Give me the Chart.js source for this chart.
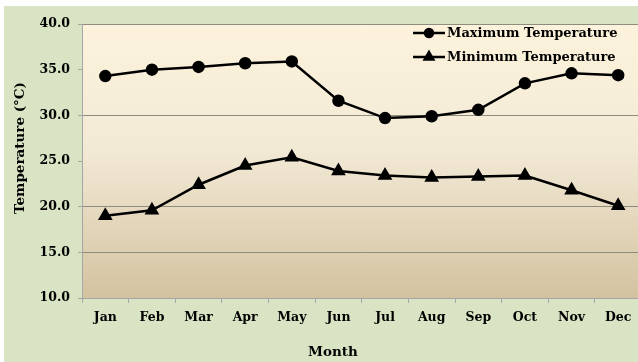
<!DOCTYPE html>
<html lang="en">
<head>
    <meta charset="UTF-8">
    <title>Monthly Temperature</title>
    <script src="https://cdn.jsdelivr.net/npm/chart.js"></script>
    <style>
        html, body { margin: 0; padding: 0; background: #ffffff; overflow: hidden; }
        .frame { position: absolute; left: 4px; top: 6px; width: 646px; height: 356px; background: #d8e4c4; }
        canvas { display: block; }
    </style>
</head>
<body>
    <div class="frame">
        <canvas id="tempChart" width="646" height="356"></canvas>
    </div>

    <script>
        const months = ['Jan', 'Feb', 'Mar', 'Apr', 'May', 'Jun', 'Jul', 'Aug', 'Sep', 'Oct', 'Nov', 'Dec'];
        const maxTemp = [34.3, 35.0, 35.3, 35.7, 35.9, 31.6, 29.7, 29.9, 30.6, 33.5, 34.6, 34.4];
        const minTemp = [19.0, 19.6, 22.4, 24.5, 25.4, 23.9, 23.4, 23.2, 23.3, 23.4, 21.8, 20.1];
        const yTicks = [10, 15, 20, 25, 30, 35, 40];
        const shownGrid = [10, 15, 20, 30, 40];

        const serif = '"DejaVu Serif", "Liberation Serif", serif';

        // plot background gradient + legend + axis titles
        const decor = {
            id: 'decor',
            beforeDraw(chart) {
                const { ctx, chartArea: a } = chart;
                const g = ctx.createLinearGradient(0, a.top, 0, a.bottom);
                g.addColorStop(0, '#fdf3dc');
                g.addColorStop(0.45, '#f3ead6');
                g.addColorStop(1, '#d3c2a0');
                ctx.save();
                ctx.fillStyle = g;
                ctx.fillRect(a.left, a.top, a.right - a.left, a.bottom - a.top);
                ctx.restore();
            },
            afterDraw(chart) {
                const ctx = chart.ctx;
                ctx.save();
                ctx.fillStyle = '#000';
                ctx.strokeStyle = '#000';
                ctx.font = 'bold 13px ' + serif;
                ctx.textBaseline = 'middle';
                chart.data.datasets.forEach((ds, i) => {
                    const y = 27 + 24 * i;
                    ctx.lineWidth = 2.5;
                    ctx.beginPath();
                    ctx.moveTo(409, y);
                    ctx.lineTo(441, y);
                    ctx.stroke();
                    Chart.helpers.drawPoint(ctx, { pointStyle: ds.pointStyle, radius: ds.pointRadius - 1, rotation: 0, borderWidth: 1 }, 425, y);
                    ctx.fill();
                    ctx.textAlign = 'left';
                    ctx.fillText(ds.label, 443, y + 1);
                });

                ctx.font = 'bold 13.5px ' + serif;
                ctx.textAlign = 'center';
                ctx.fillText('Month', 329, 346);
                ctx.translate(16, 142);
                ctx.rotate(-Math.PI / 2);
                ctx.fillText('Temperature (°C)', 0, 0);
                ctx.restore();
            }
        };

        new Chart(document.getElementById('tempChart'), {
            type: 'line',
            data: {
                labels: months,
                datasets: [
                    {
                        label: 'Maximum Temperature',
                        data: maxTemp,
                        borderColor: '#000',
                        backgroundColor: '#000',
                        borderWidth: 2.5,
                        pointStyle: 'circle',
                        pointRadius: 5,
                        tension: 0
                    },
                    {
                        label: 'Minimum Temperature',
                        data: minTemp,
                        borderColor: '#000',
                        backgroundColor: '#000',
                        borderWidth: 2.5,
                        pointStyle: 'triangle',
                        pointRadius: 6,
                        tension: 0
                    }
                ]
            },
            options: {
                responsive: false,
                animation: false,
                layout: { padding: { top: 18, right: 2, left: 0, bottom: 0 } },
                plugins: {
                    legend: { display: false },
                    tooltip: { enabled: false }
                },
                scales: {
                    x: {
                        offset: true,
                        afterFit: s => { s.height = 64; },
                        grid: { offset: true, drawOnChartArea: false, tickLength: 5, tickColor: '#a6a6a6' },
                        border: { color: '#a6a6a6', width: 1 },
                        ticks: { color: '#000', padding: 7, font: { family: serif, size: 12.5, weight: 'bold' } }
                    },
                    y: {
                        min: 10,
                        max: 40,
                        afterFit: s => { s.width = 78; },
                        afterBuildTicks: s => { s.ticks = yTicks.map(v => ({ value: v })); },
                        grid: {
                            color: c => shownGrid.includes(c.tick && c.tick.value) ? '#8e8c7c' : 'rgba(0,0,0,0)',
                            tickColor: '#a6a6a6',
                            tickLength: 4
                        },
                        border: { color: '#a6a6a6', width: 1 },
                        ticks: {
                            color: '#000',
                            padding: 8,
                            font: { family: serif, size: 12.5, weight: 'bold' },
                            callback: v => v.toFixed(1)
                        }
                    }
                }
            },
            plugins: [decor]
        });
    </script>
</body>
</html>
